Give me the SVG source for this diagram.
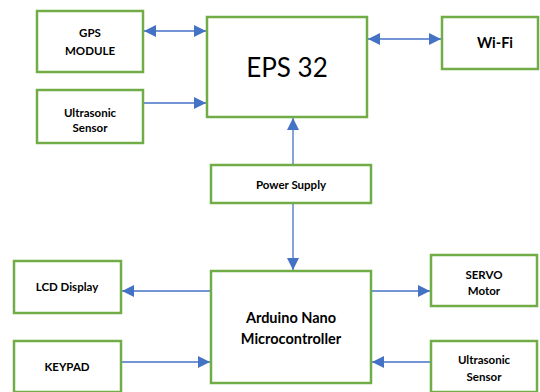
<svg xmlns="http://www.w3.org/2000/svg" width="540" height="392" viewBox="0 0 540 392">
<defs>
<marker id="ah" viewBox="0 0 12 12" refX="12" refY="6" markerWidth="12" markerHeight="12" markerUnits="userSpaceOnUse" orient="auto-start-reverse">
<path d="M0,0 L12,6 L0,12 Z" fill="#4472C4"/>
</marker>
<style>
.box{fill:#fff;stroke:#70AD47;stroke-width:2.5}
.t{font-family:Lato,"Open Sans","Liberation Sans",sans-serif;font-weight:bold;font-size:11.5px;fill:#000;text-anchor:middle}
.tb{font-family:Lato,"Open Sans","Liberation Sans",sans-serif;font-weight:bold;font-size:14.5px;fill:#000;text-anchor:middle}
.c{stroke:#4472C4;stroke-width:1.3;fill:none}
</style>
</defs>
<g id="connectors">
<line class="c" x1="144" y1="31" x2="206" y2="31" marker-start="url(#ah)" marker-end="url(#ah)"/>
<line class="c" x1="144" y1="103" x2="206" y2="103" marker-end="url(#ah)"/>
<line class="c" x1="368" y1="39" x2="441" y2="39" marker-start="url(#ah)" marker-end="url(#ah)"/>
<line class="c" x1="293" y1="164" x2="293" y2="118" marker-end="url(#ah)"/>
<line class="c" x1="293" y1="204" x2="293" y2="270" marker-end="url(#ah)"/>
<line class="c" x1="211" y1="291" x2="122" y2="291" marker-end="url(#ah)"/>
<line class="c" x1="121" y1="362" x2="210" y2="362" marker-end="url(#ah)"/>
<line class="c" x1="372" y1="291" x2="430" y2="291" marker-end="url(#ah)"/>
<line class="c" x1="431" y1="362" x2="372" y2="362" marker-end="url(#ah)"/>
</g>
<g id="gps">
<rect class="box" x="37" y="11" width="106" height="61"/>
<text class="t" x="90" y="37">GPS</text>
<text class="t" x="90" y="55">MODULE</text>
</g>
<g id="ultrasonic1">
<rect class="box" x="37" y="90" width="106" height="53"/>
<text class="t" x="90" y="117">Ultrasonic</text>
<text class="t" x="90" y="132">Sensor</text>
</g>
<g id="eps32">
<rect class="box" x="207" y="17" width="160" height="100"/>
<text x="287" y="77" font-family="Lato,'Open Sans','Liberation Sans',sans-serif" font-size="26" text-anchor="middle" fill="#000">EPS 32</text>
</g>
<g id="wifi">
<rect class="box" x="442" y="17" width="96" height="52"/>
<text class="tb" x="495" y="48" font-size="16">Wi-Fi</text>
</g>
<g id="power">
<rect class="box" x="211" y="165" width="160" height="38"/>
<text class="t" x="291" y="189">Power Supply</text>
</g>
<g id="arduino">
<rect class="box" x="211" y="271" width="160" height="112"/>
<text class="tb" x="291" y="323">Arduino Nano</text>
<text class="tb" x="291" y="344">Microcontroller</text>
</g>
<g id="lcd">
<rect class="box" x="14" y="261" width="107" height="52"/>
<text class="t" x="67" y="291">LCD Display</text>
</g>
<g id="keypad">
<rect class="box" x="14" y="341" width="107" height="51"/>
<text class="t" x="67" y="371">KEYPAD</text>
</g>
<g id="servo">
<rect class="box" x="431" y="255" width="106" height="51"/>
<text class="t" x="484" y="279">SERVO</text>
<text class="t" x="484" y="295">Motor</text>
</g>
<g id="ultrasonic2">
<rect class="box" x="431" y="341" width="106" height="51"/>
<text class="t" x="484" y="364">Ultrasonic</text>
<text class="t" x="484" y="381">Sensor</text>
</g>
</svg>
